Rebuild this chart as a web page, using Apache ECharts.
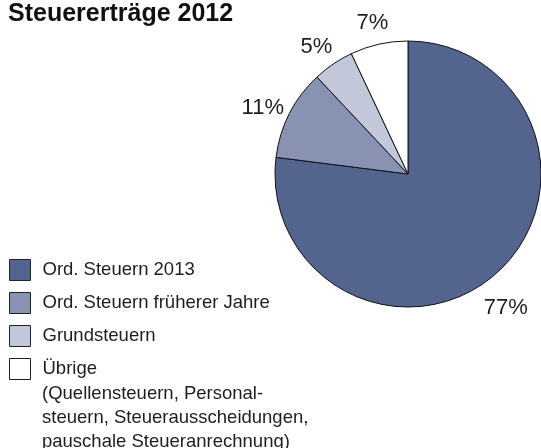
<!DOCTYPE html>
<html>
<head>
<meta charset="utf-8">
<script src="https://cdn.jsdelivr.net/npm/echarts@6/dist/echarts.min.js"></script>
<style>
  html, body { margin: 0; padding: 0; background: #ffffff; }
  #chart { width: 541px; height: 448px; }
</style>
</head>
<body>
<div id="chart"></div>
<script>
// Tax revenue shares 2012
const categories = ['Ord. Steuern 2013', 'Ord. Steuern früherer Jahre', 'Grundsteuern', 'Übrige'];
const shares = [77, 11, 5, 7];
const sliceColors = ['#53658f', '#8893b4', '#c2c7da', '#ffffff'];
const otherNote = ['(Quellensteuern, Personal-', 'steuern, Steuerausscheidungen,', 'pauschale Steueranrechnung)'];

const FONT = '"Liberation Sans", Arial, Helvetica, sans-serif';
const TEXT = '#1e1e1e';

const sliceData = categories.map((name, i) => ({
  name: name,
  value: shares[i],
  itemStyle: { color: sliceColors[i] }
}));

// Same shares on a wider invisible ring, used only to place the percent labels outside the pie
const labelData = categories.map((name, i) => ({
  name: name,
  value: shares[i],
  label: i === 0 ? { offset: [-10, 12] } : undefined
}));

const chart = echarts.init(document.getElementById('chart'), null, { renderer: 'canvas' });

chart.setOption({
  animation: false,
  backgroundColor: '#ffffff',
  title: {
    text: 'Steuererträge 2012',
    left: 8,
    top: 2,
    padding: 0,
    textStyle: { fontFamily: FONT, fontSize: 25, fontWeight: 'bold', color: '#111111' }
  },
  legend: {
    orient: 'vertical',
    left: 9,
    top: 259,
    padding: 0,
    data: categories,
    icon: 'rect',
    itemWidth: 21,
    itemHeight: 21,
    itemGap: 11,
    selectedMode: false,
    itemStyle: { borderColor: '#222222', borderWidth: 1 },
    textStyle: { fontFamily: FONT, fontSize: 18.5, color: TEXT, padding: [0, 0, 0, 7] }
  },
  graphic: [{
    type: 'text',
    left: 42,
    top: 382,
    silent: true,
    style: {
      text: otherNote.join('\n'),
      font: '18.5px ' + FONT,
      lineHeight: 24,
      fill: TEXT
    }
  }],
  series: [
    {
      type: 'pie',
      center: [408, 174],
      radius: 133,
      startAngle: 90,
      clockwise: true,
      avoidLabelOverlap: false,
      label: { show: false },
      labelLine: { show: false },
      itemStyle: { borderColor: '#111111', borderWidth: 1 },
      emphasis: { disabled: true },
      data: sliceData
    },
    {
      type: 'pie',
      center: [408, 174],
      radius: [146, 174],
      startAngle: 90,
      clockwise: true,
      silent: true,
      avoidLabelOverlap: false,
      itemStyle: { color: 'rgba(0,0,0,0)', borderWidth: 0 },
      label: {
        show: true,
        position: 'inside',
        formatter: '{d}%',
        offset: [0, 8],
        fontFamily: FONT,
        fontSize: 22,
        color: TEXT
      },
      labelLine: { show: false },
      emphasis: { disabled: true },
      data: labelData
    }
  ]
});
</script>
</body>
</html>
